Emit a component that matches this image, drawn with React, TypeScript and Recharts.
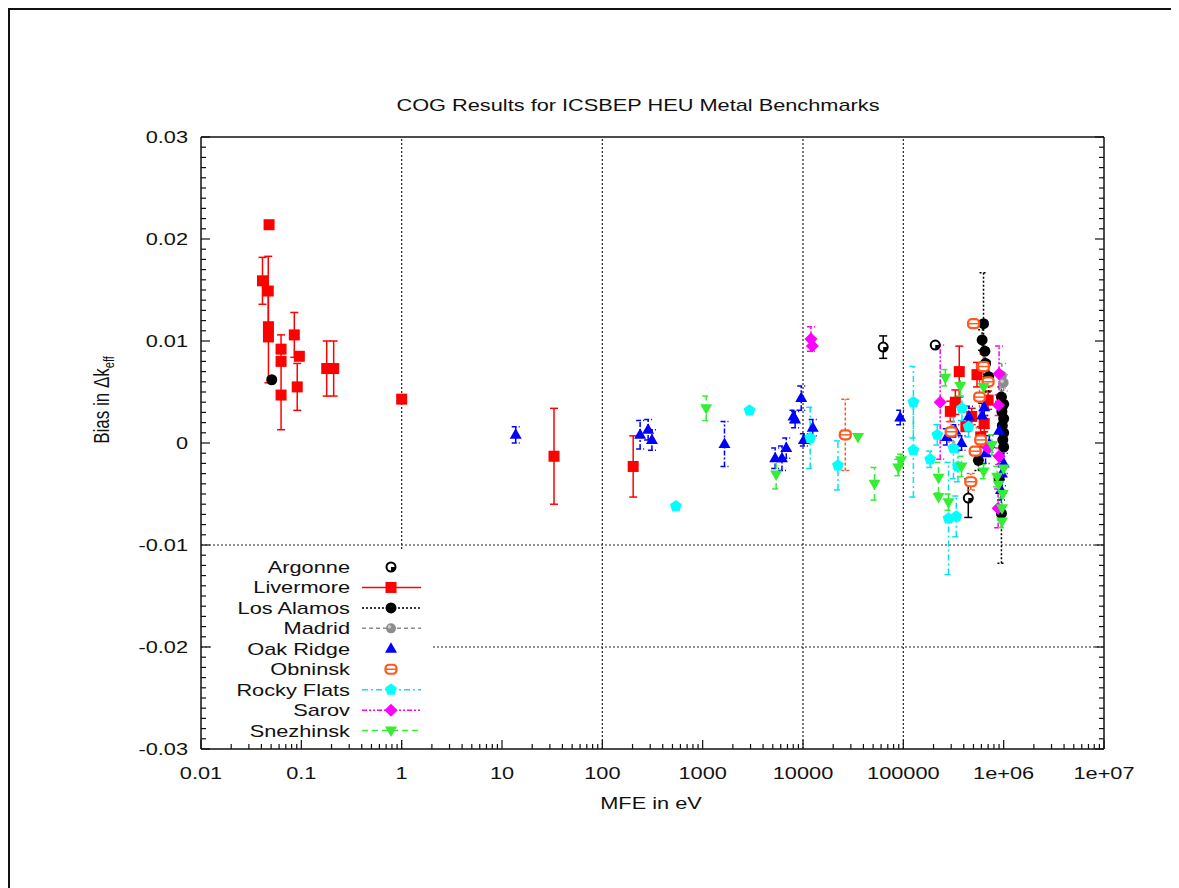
import {
  ScatterChart,
  Scatter,
  XAxis,
  YAxis,
  ErrorBar,
  ReferenceLine,
} from "recharts";

// MFE (eV), bias, 1-sigma error
const argonne = [
  { x: 63000, y: 0.0094, e: 0.0011 },
  { x: 208000, y: 0.0096, e: 0 },
  { x: 444000, y: -0.0054, e: 0.0019 },
];

const livermore = [
  { x: 0.0477, y: 0.0214, e: 0 },
  { x: 0.041, y: 0.0159, e: 0.0023 },
  { x: 0.0468, y: 0.0149, e: 0.0034 },
  { x: 0.047, y: 0.0114, e: 0 },
  { x: 0.047, y: 0.0104, e: 0.0045 },
  { x: 0.0628, y: 0.0092, e: 0.0014 },
  { x: 0.0628, y: 0.008, e: 0 },
  { x: 0.0628, y: 0.0047, e: 0.0034 },
  { x: 0.0851, y: 0.0106, e: 0.0022 },
  { x: 0.0955, y: 0.0085, e: 0 },
  { x: 0.091, y: 0.0055, e: 0.0023 },
  { x: 0.179, y: 0.0073, e: 0.0027 },
  { x: 0.21, y: 0.0073, e: 0.0027 },
  { x: 1.0, y: 0.0043, e: 0 },
  { x: 33, y: -0.0013, e: 0.0047 },
  { x: 203, y: -0.0023, e: 0.003 },
  { x: 294000, y: 0.0031, e: 0.001 },
  { x: 361000, y: 0.007, e: 0.0025 },
  { x: 330000, y: 0.004, e: 0.0012 },
  { x: 542000, y: 0.0067, e: 0.0012 },
  { x: 480000, y: 0.0026, e: 0.0008 },
  { x: 640000, y: 0.0019, e: 0.0008 },
  { x: 590000, y: 0.0006, e: 0.001 },
  { x: 700000, y: 0.0042, e: 0.0009 },
  { x: 420000, y: 0.0016, e: 0 },
];

const losAlamos = [
  { x: 0.0507, y: 0.0062, e: 0 },
  { x: 630000, y: 0.0117, e: 0.005 },
  { x: 610000, y: 0.0101, e: 0.001 },
  { x: 650000, y: 0.009, e: 0.0012 },
  { x: 660000, y: 0.0078, e: 0.0008 },
  { x: 710000, y: 0.0065, e: 0.0015 },
  { x: 560000, y: -0.0017, e: 0.001 },
  { x: 950000, y: 0.0045, e: 0.001 },
  { x: 1000000, y: 0.0038, e: 0.0008 },
  { x: 960000, y: 0.0031, e: 0 },
  { x: 1000000, y: 0.0024, e: 0 },
  { x: 970000, y: 0.0017, e: 0 },
  { x: 1000000, y: 0.001, e: 0 },
  { x: 980000, y: 0.0003, e: 0 },
  { x: 1000000, y: -0.0004, e: 0 },
  { x: 950000, y: -0.0069, e: 0.0049 },
  { x: 900000, y: -0.0035, e: 0 },
];

const madrid = [
  { x: 960000, y: 0.0066, e: 0.0012 },
  { x: 1000000, y: 0.0059, e: 0.0008 },
];

const oakRidge = [
  { x: 13.7, y: 0.0008, e: 0.0008 },
  { x: 238, y: 0.0008, e: 0.0014 },
  { x: 286, y: 0.0013, e: 0.001 },
  { x: 312, y: 0.0003, e: 0.001 },
  { x: 1650, y: -0.0001, e: 0.0022 },
  { x: 5280, y: -0.0015, e: 0.001 },
  { x: 6170, y: -0.0015, e: 0.0012 },
  { x: 6810, y: -0.0005, e: 0.001 },
  { x: 8040, y: 0.0026, e: 0.0006 },
  { x: 8340, y: 0.0023, e: 0.0008 },
  { x: 9600, y: 0.0044, e: 0.0012 },
  { x: 10200, y: 0.0003, e: 0.0006 },
  { x: 12500, y: 0.0015, e: 0.0008 },
  { x: 93000, y: 0.0025, e: 0.0007 },
  { x: 271000, y: 0.0006, e: 0.0008 },
  { x: 330000, y: 0.0012, e: 0.0006 },
  { x: 450000, y: 0.0026, e: 0.001 },
  { x: 380000, y: 0.0, e: 0.0007 },
  { x: 610000, y: 0.0027, e: 0.0012 },
  { x: 640000, y: 0.0035, e: 0.0008 },
  { x: 660000, y: -0.001, e: 0.001 },
  { x: 720000, y: -0.0001, e: 0.0008 },
  { x: 960000, y: -0.003, e: 0.0012 },
  { x: 940000, y: -0.0046, e: 0.001 },
  { x: 1000000, y: -0.002, e: 0.001 },
  { x: 900000, y: 0.0012, e: 0 },
];

const obninsk = [
  { x: 26400, y: 0.0008, e: 0.0035 },
  { x: 501000, y: 0.0117, e: 0 },
  { x: 575000, y: 0.0045, e: 0.003 },
  { x: 300000, y: 0.0011, e: 0.001 },
  { x: 470000, y: -0.0038, e: 0.0008 },
  { x: 590000, y: 0.0003, e: 0.0006 },
  { x: 630000, y: 0.0075, e: 0.0012 },
  { x: 520000, y: -0.0008, e: 0 },
  { x: 700000, y: 0.006, e: 0 },
];

const rockyFlats = [
  { x: 541, y: -0.0062, e: 0 },
  { x: 2930, y: 0.0032, e: 0 },
  { x: 11800, y: 0.0005, e: 0.003 },
  { x: 22300, y: -0.0022, e: 0.0024 },
  { x: 126000, y: 0.004, e: 0.0035 },
  { x: 126000, y: -0.0007, e: 0.0046 },
  { x: 185000, y: -0.0016, e: 0.0008 },
  { x: 218000, y: 0.0008, e: 0.001 },
  { x: 282000, y: -0.0074, e: 0.0055 },
  { x: 337000, y: -0.0072, e: 0.002 },
  { x: 384000, y: 0.0034, e: 0.0012 },
  { x: 316000, y: -0.0005, e: 0.003 },
  { x: 447000, y: 0.0016, e: 0.001 },
  { x: 350000, y: -0.0023, e: 0.0015 },
];

const sarov = [
  { x: 12000, y: 0.0102, e: 0.0012 },
  { x: 12400, y: 0.0095, e: 0 },
  { x: 233000, y: 0.004, e: 0.0056 },
  { x: 890000, y: 0.0037, e: 0.001 },
  { x: 900000, y: 0.0068, e: 0.0027 },
  { x: 900000, y: -0.0013, e: 0.0008 },
  { x: 880000, y: -0.0064, e: 0.0019 },
  { x: 700000, y: -0.0005, e: 0 },
];

const snezhinsk = [
  { x: 1084, y: 0.0034, e: 0.0012 },
  { x: 5400, y: -0.0031, e: 0.0014 },
  { x: 35300, y: 0.0006, e: 0 },
  { x: 51600, y: -0.004, e: 0.0016 },
  { x: 89000, y: -0.0024, e: 0.0008 },
  { x: 95000, y: -0.0017, e: 0.0006 },
  { x: 224000, y: -0.0034, e: 0.0015 },
  { x: 224000, y: -0.0053, e: 0 },
  { x: 282000, y: -0.0058, e: 0.0008 },
  { x: 262000, y: 0.0064, e: 0.0008 },
  { x: 369000, y: 0.0056, e: 0.001 },
  { x: 380000, y: -0.0023, e: 0.001 },
  { x: 631000, y: -0.0028, e: 0.0007 },
  { x: 631000, y: 0.0055, e: 0.001 },
  { x: 764000, y: -0.0002, e: 0.001 },
  { x: 860000, y: -0.0033, e: 0.001 },
  { x: 890000, y: -0.0041, e: 0 },
  { x: 962000, y: -0.0064, e: 0.001 },
  { x: 962000, y: -0.0077, e: 0.0006 },
  { x: 980000, y: -0.005, e: 0 },
  { x: 1000000, y: -0.0025, e: 0 },
];

const xMajor = [0.01, 0.1, 1, 10, 100, 1000, 1e4, 1e5, 1e6, 1e7];
const xMajorLabels = ["0.01", "0.1", "1", "10", "100", "1000", "10000", "100000", "1e+06", "1e+07"];
const xMinorSteps = [2, 3, 4, 5, 6, 7, 8, 9];
const yMajor = [-0.03, -0.02, -0.01, 0, 0.01, 0.02, 0.03];
const yMajorLabels = ["-0.03", "-0.02", "-0.01", "0", "0.01", "0.02", "0.03"];
const xGrid = [1, 100, 1e4, 1e5];
const yGrid = [-0.01, -0.02];

const xTicks: number[] = [];
xMajor.forEach((m, i) => {
  xTicks.push(m);
  if (i < xMajor.length - 1) xMinorSteps.forEach((s) => xTicks.push(m * s));
});
const yTicks: number[] = [];
for (let i = -30; i <= 30; i++) yTicks.push(i / 1000);

const INK = "#111";
const FONT = "'Liberation Sans', Arial, Helvetica, sans-serif";
const FS = 17;
const W = 1169;
const H = 878;

// the lettering of the original is stretched sideways
function stretched(x: number, y: number, s = 1.28) {
  return `translate(${x} ${y}) scale(${s} 1)`;
}

function XTick(props: any) {
  const { x, y, payload, side } = props;
  const k = Math.log10(payload.value);
  const major = Math.abs(k - Math.round(k)) < 1e-6;
  const d = side === "bottom" ? -1 : 1;
  const idx = xMajor.findIndex((m) => Math.abs(Math.log10(m) - k) < 1e-6);
  return (
    <g>
      <line x1={x} y1={y} x2={x} y2={y + d * (major ? 9 : 5)} stroke={INK} strokeWidth={1.2} />
      {side === "bottom" && major && (
        <text transform={stretched(x, y + 30)} textAnchor="middle" fontSize={FS} fontFamily={FONT} fill={INK}>
          {xMajorLabels[idx]}
        </text>
      )}
    </g>
  );
}

function YTick(props: any) {
  const { x, y, payload, side } = props;
  const v = payload.value;
  const major = Math.abs(v * 100 - Math.round(v * 100)) < 1e-6;
  const d = side === "left" ? 1 : -1;
  const idx = yMajor.findIndex((m) => Math.abs(m - v) < 1e-9);
  return (
    <g>
      <line x1={x} y1={y} x2={x + d * (major ? 9 : 5)} y2={y} stroke={INK} strokeWidth={1.2} />
      {side === "left" && major && (
        <text transform={stretched(x - 13, y + 6)} textAnchor="end" fontSize={FS} fontFamily={FONT} fill={INK}>
          {yMajorLabels[idx]}
        </text>
      )}
    </g>
  );
}

type Mk = (cx: number, cy: number) => JSX.Element;

const markers: Record<string, Mk> = {
  argonne: (cx, cy) => (
    <g>
      <circle cx={cx} cy={cy} r={4.5} fill="#fff" stroke="#000" strokeWidth={2} />
      <path d={`M${cx},${cy} L${cx + 4.5},${cy} A4.5,4.5 0 0,1 ${cx},${cy + 4.5} Z`} fill="#000" />
    </g>
  ),
  livermore: (cx, cy) => <rect x={cx - 5.5} y={cy - 5.5} width={11} height={11} fill="#ff0000" />,
  losAlamos: (cx, cy) => <circle cx={cx} cy={cy} r={5.5} fill="#000" />,
  madrid: (cx, cy) => (
    <g>
      <circle cx={cx} cy={cy} r={5} fill="#8c8c8c" />
      <circle cx={cx - 1.5} cy={cy - 1.5} r={1.8} fill="#c8c8c8" />
    </g>
  ),
  oakRidge: (cx, cy) => (
    <polygon points={`${cx},${cy - 6.5} ${cx + 6},${cy + 4} ${cx - 6},${cy + 4}`} fill="#0000ff" />
  ),
  obninsk: (cx, cy) => (
    <g>
      <rect x={cx - 5.5} y={cy - 4.5} width={11} height={9} rx={3.5} fill="#fff" stroke="#ff5a1e" strokeWidth={2.2} />
      <line x1={cx - 5.5} y1={cy} x2={cx + 5.5} y2={cy} stroke="#ff5a1e" strokeWidth={1.5} />
    </g>
  ),
  rockyFlats: (cx, cy) => (
    <polygon
      points={[0, 1, 2, 3, 4]
        .map((i) => {
          const a = -Math.PI / 2 + (i * 2 * Math.PI) / 5;
          return `${cx + 6.2 * Math.cos(a)},${cy + 6.2 * Math.sin(a)}`;
        })
        .join(" ")}
      fill="#00ffff"
    />
  ),
  sarov: (cx, cy) => (
    <polygon points={`${cx},${cy - 6.5} ${cx + 6.5},${cy} ${cx},${cy + 6.5} ${cx - 6.5},${cy}`} fill="#ff00ff" />
  ),
  snezhinsk: (cx, cy) => (
    <polygon points={`${cx},${cy + 6.5} ${cx + 6},${cy - 4} ${cx - 6},${cy - 4}`} fill="#33ee33" />
  ),
};

const series = [
  { key: "argonne", name: "Argonne", data: argonne, color: "#000", dash: "", line: false },
  { key: "livermore", name: "Livermore", data: livermore, color: "#ff0000", dash: "", line: true },
  { key: "losAlamos", name: "Los Alamos", data: losAlamos, color: "#000", dash: "2 2", line: true },
  { key: "madrid", name: "Madrid", data: madrid, color: "#8c8c8c", dash: "4 3", line: true },
  { key: "oakRidge", name: "Oak Ridge", data: oakRidge, color: "#0000ff", dash: "5 2 2 2", line: false },
  { key: "obninsk", name: "Obninsk", data: obninsk, color: "#ff5a1e", dash: "3 2", line: false },
  { key: "rockyFlats", name: "Rocky Flats", data: rockyFlats, color: "#00e5ee", dash: "6 3 2 3", line: true },
  { key: "sarov", name: "Sarov", data: sarov, color: "#ff00ff", dash: "5 2 2 2 2 2", line: true },
  { key: "snezhinsk", name: "Snezhinsk", data: snezhinsk, color: "#33ee33", dash: "6 4", line: true },
];

function Overlay() {
  // drawn in page coordinates, shifted back by the 10px of body margin + border
  return (
    <svg
      width={W}
      height={H}
      style={{ position: "absolute", left: 0, top: 0, pointerEvents: "none", overflow: "visible" }}
    >
      <g transform="translate(-10 -10)">
        <text transform={stretched(638, 111)} textAnchor="middle" fontSize={FS} fontFamily={FONT} fill={INK}>
          COG Results for ICSBEP HEU Metal Benchmarks
        </text>
        <text transform={stretched(651, 809)} textAnchor="middle" fontSize={FS} fontFamily={FONT} fill={INK}>
          MFE in eV
        </text>
        <text
          transform={`translate(109 ${400}) rotate(-90) scale(1 1.28)`}
          textAnchor="middle"
          fontSize={FS}
          fontFamily={FONT}
          fill={INK}
        >
          Bias in Δk
          <tspan fontSize={11} dy={4}>eff</tspan>
        </text>
        {/* opaque key box */}
        <rect x={211} y={551} width={221} height={189} fill="#fff" />
        {series.map((s, i) => {
          const y = 567 + i * 20.45;
          return (
            <g key={s.key}>
              <text transform={stretched(350, y + 6)} textAnchor="end" fontSize={FS} fontFamily={FONT} fill={INK}>
                {s.name}
              </text>
              {s.line && (
                <line
                  x1={362}
                  y1={y}
                  x2={421}
                  y2={y}
                  stroke={s.color}
                  strokeWidth={1.5}
                  strokeDasharray={s.dash || undefined}
                />
              )}
              {markers[s.key](391, y)}
            </g>
          );
        })}
      </g>
    </svg>
  );
}

export default function App() {
  return (
    <div
      style={{
        position: "relative",
        width: W,
        height: H,
        borderTop: "2px solid #111",
        borderLeft: "2px solid #111",
        background: "#fff",
      }}
    >
      <style>{`html,body{overflow:hidden;}`}</style>
      <ScatterChart width={W} height={H} margin={{ top: 117, right: 65, bottom: 109, left: 131 }}>
        <XAxis
          xAxisId="b"
          type="number"
          dataKey="x"
          scale="log"
          domain={[0.01, 1e7]}
          allowDataOverflow
          ticks={xTicks}
          interval={0}
          height={30}
          tickSize={0}
          tickMargin={0}
          tickLine={false}
          axisLine={{ stroke: INK, strokeWidth: 1.5 }}
          tick={(p: any) => <XTick {...p} side="bottom" />}
        />
        <XAxis
          xAxisId="t"
          orientation="top"
          type="number"
          scale="log"
          domain={[0.01, 1e7]}
          allowDataOverflow
          ticks={xTicks}
          interval={0}
          height={10}
          tickSize={0}
          tickMargin={0}
          tickLine={false}
          axisLine={{ stroke: INK, strokeWidth: 1.5 }}
          tick={(p: any) => <XTick {...p} side="top" />}
        />
        <YAxis
          yAxisId="l"
          type="number"
          dataKey="y"
          domain={[-0.03, 0.03]}
          allowDataOverflow
          ticks={yTicks}
          interval={0}
          width={60}
          tickSize={0}
          tickMargin={0}
          tickLine={false}
          axisLine={{ stroke: INK, strokeWidth: 1.5 }}
          tick={(p: any) => <YTick {...p} side="left" />}
        />
        <YAxis
          yAxisId="r"
          orientation="right"
          type="number"
          domain={[-0.03, 0.03]}
          allowDataOverflow
          ticks={yTicks}
          interval={0}
          width={10}
          tickSize={0}
          tickMargin={0}
          tickLine={false}
          axisLine={{ stroke: INK, strokeWidth: 1.5 }}
          tick={(p: any) => <YTick {...p} side="right" />}
        />
        {xGrid.map((g) => (
          <ReferenceLine key={`gx${g}`} xAxisId="b" yAxisId="l" x={g} stroke="#222" strokeWidth={1.2} strokeDasharray="2 2" />
        ))}
        {yGrid.map((g) => (
          <ReferenceLine key={`gy${g}`} xAxisId="b" yAxisId="l" y={g} stroke="#222" strokeWidth={1.2} strokeDasharray="2 2" />
        ))}
        {series.map((s) => (
          <Scatter
            key={s.key}
            name={s.name}
            data={s.data}
            xAxisId="b"
            yAxisId="l"
            isAnimationActive={false}
            shape={(p: any) => markers[s.key](p.cx, p.cy)}
          >
            <ErrorBar
              dataKey="e"
              direction="y"
              width={4}
              stroke={s.color}
              strokeWidth={1.5}
              strokeDasharray={s.dash || undefined}
            />
          </Scatter>
        ))}
      </ScatterChart>
      <Overlay />
    </div>
  );
}
